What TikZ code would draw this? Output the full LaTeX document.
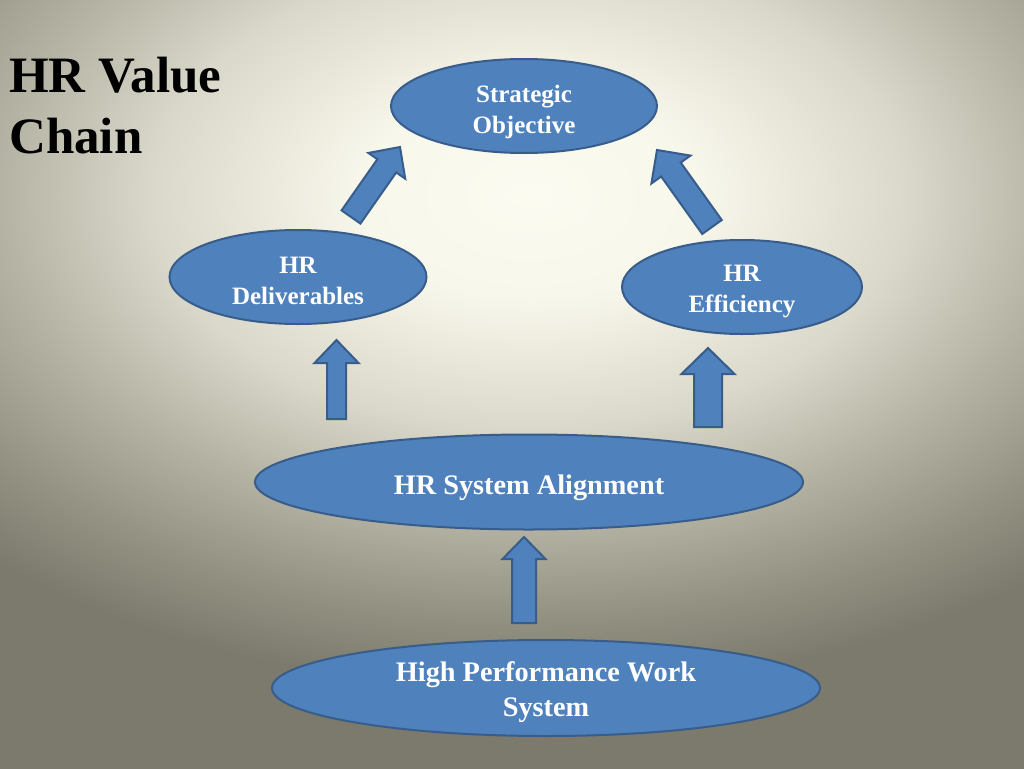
\documentclass[tikz,border=0pt]{standalone}
\usepackage{fontspec}
\setmainfont{Liberation Serif}
\usetikzlibrary{shapes.geometric,calc}
\definecolor{bgA}{HTML}{FCFBF1}
\definecolor{bgB}{HTML}{F8F7EB}
\definecolor{bgC}{HTML}{DAD8CA}
\definecolor{bgD}{HTML}{B5B3A4}
\definecolor{bgE}{HTML}{959384}
\definecolor{bgF}{HTML}{7B7A6C}
\definecolor{boxfill}{HTML}{4F81BD}
\definecolor{boxline}{HTML}{385D8A}
\pgfdeclareradialshading{bgshade}{\pgfpoint{0bp}{0bp}}{color(0bp)=(bgA); color(2.5bp)=(bgB); color(5.625bp)=(bgC); color(7.875bp)=(bgD); color(10bp)=(bgE); color(11.875bp)=(bgF); color(50bp)=(bgF)}
\tikzset{
  oval/.style={ellipse, fill=boxfill, draw=boxline, line width=2pt, inner sep=0pt},
  ovaltext/.style={inner sep=0pt, text=white, align=center, font=\bfseries\fontsize{25}{31}\selectfont},
  bigtext/.style={ovaltext, font=\bfseries\fontsize{28.3}{35}\selectfont},
  barrow/.style={fill=boxfill, draw=boxline, line width=2pt, line join=miter},
  title/.style={anchor=north west, inner sep=0pt, align=left, font=\bfseries\fontsize{51}{61}\selectfont}
}
% #1 tail, #2 tip, #3 half shaft, #4 half head, #5 head length
\newcommand\blockarrow[5]{%
  \coordinate (#1-base) at ($(#2)!#5!(#1)$);
  \draw[barrow] ($(#1)!#3!90:(#2)$) -- ($(#1-base)!#3!90:(#2)$) -- ($(#1-base)!#4!90:(#2)$) -- (#2)
    -- ($(#1-base)!#4!-90:(#2)$) -- ($(#1-base)!#3!-90:(#2)$) -- ($(#1)!#3!-90:(#2)$) -- cycle;}
\begin{document}
\begin{tikzpicture}[x=1pt,y=-1pt]
\useasboundingbox (0,0) rectangle (1024,768);
\begin{scope}
\clip (0,0) rectangle (1024,768);
\shade[shading=bgshade] (-1150,-845) rectangle (2210,1235);
\end{scope}
\node[title] (title) at (9,57) {HR Value\\Chain};
\node[oval, minimum width=266pt, minimum height=94pt] (so) at (524,106) {};
\node[oval, minimum width=257pt, minimum height=94pt] (del) at (298,277) {};
\node[oval, minimum width=240pt, minimum height=94pt] (eff) at (742,287) {};
\node[oval, minimum width=548pt, minimum height=95pt] (sa) at (529,482) {};
\node[oval, minimum width=548pt, minimum height=96pt] (hp) at (546,688) {};
\node[ovaltext] (so-t) at ($(so)+(0,6)$) {Strategic\\Objective};
\node[ovaltext] (del-t) at ($(del)+(0,4)$) {HR\\Deliverables};
\node[ovaltext] (eff-t) at ($(eff)+(0,5)$) {HR\\Efficiency};
\node[bigtext] (sa-t) at ($(sa)+(0,6)$) {HR System Alignment};
\node[bigtext] (hp-t) at ($(hp)+(0,4)$) {High Performance Work\\System};
\coordinate (a1t) at (351,217); \coordinate (a1h) at (400,147);
\coordinate (a2t) at (712,227); \coordinate (a2h) at (657,150);
\coordinate (a3t) at (336.5,419); \coordinate (a3h) at (336.5,340);
\coordinate (a4t) at (708,427); \coordinate (a4h) at (708,348);
\coordinate (a5t) at (524,623); \coordinate (a5h) at (524,537);
\blockarrow{a1t}{a1h}{11.5pt}{22.5pt}{23pt}
\blockarrow{a2t}{a2h}{12pt}{24pt}{24pt}
\blockarrow{a3t}{a3h}{9.5pt}{22pt}{23pt}
\blockarrow{a4t}{a4h}{14pt}{26.5pt}{26pt}
\blockarrow{a5t}{a5h}{12pt}{21.5pt}{22pt}
\end{tikzpicture}
\end{document}
